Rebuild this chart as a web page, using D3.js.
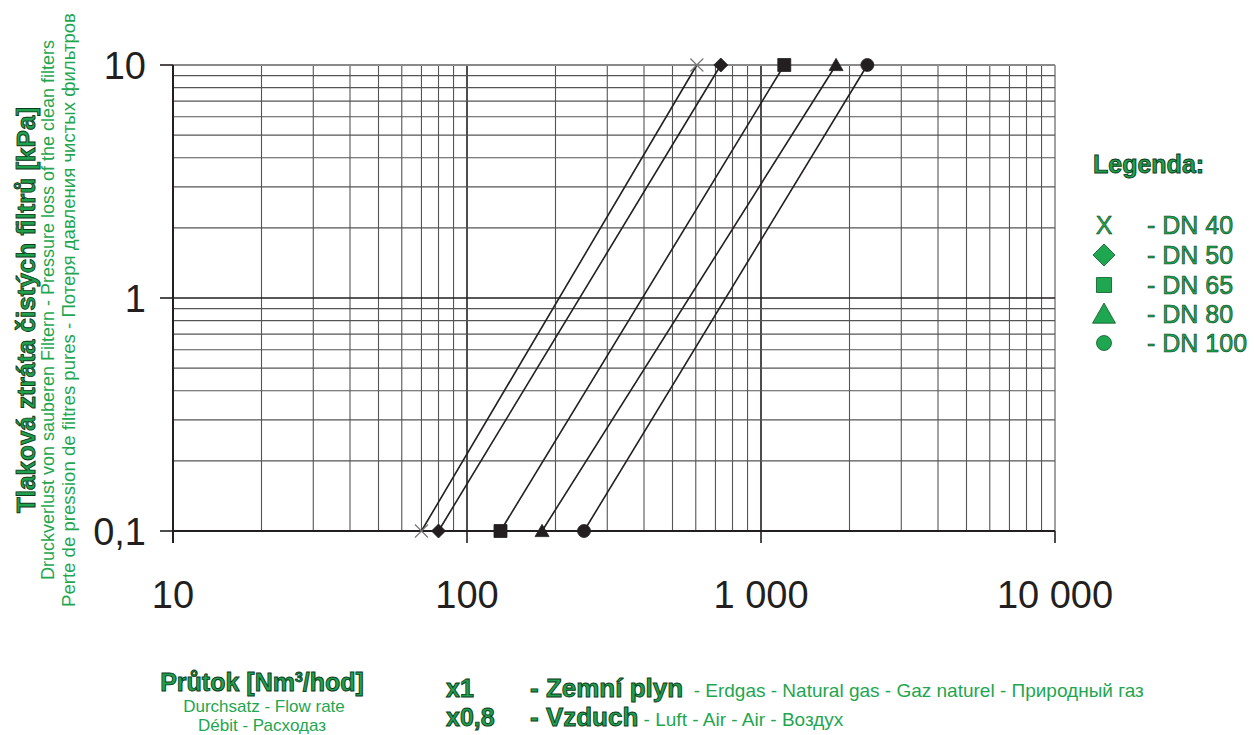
<!DOCTYPE html>
<html>
<head>
<meta charset="utf-8">
<script src="https://cdn.jsdelivr.net/npm/d3@7"></script>
<style>
  body { margin: 0; background: #fff; }
  svg { font-family: "Liberation Sans", Arial, sans-serif; }
  .bold { font-weight: bold; fill: #1fa04c; stroke: #0c3a1c; stroke-width: 0.9px; }
  .thin { fill: #1fa650; }
</style>
</head>
<body>
<div id="chart"></div>
<script>
// filter sizes and their flow at the two ends of the pressure range
const sizes = ['DN 40', 'DN 50', 'DN 65', 'DN 80', 'DN 100'];
const symbols = ['x', 'diamond', 'square', 'triangle', 'circle'];
const pressureLow = 0.1;
const pressureHigh = 10;
const flowLow = [70, 80, 130, 180, 250];
const flowHigh = [605, 730, 1200, 1800, 2300];

const xTickLabels = ['10', '100', '1 000', '10 000'];
const yTickLabels = ['0,1', '1', '10'];

const width = 1254;
const height = 735;

const svg = d3.select('#chart')
  .append('svg')
  .attr('width', width)
  .attr('height', height);

const x = d3.scaleLog().domain([10, 10000]).range([173, 1055]);
const y = d3.scaleLog().domain([0.1, 10]).range([531, 65]);

const isDecade = (v) => Math.abs(Math.log10(v) - Math.round(Math.log10(v))) < 1e-9;

// grid
const grid = svg.append('g');
grid.selectAll('.vx')
  .data(x.ticks())
  .enter()
  .append('line')
  .attr('x1', (d) => x(d)).attr('x2', (d) => x(d))
  .attr('y1', y(10)).attr('y2', y(0.1))
  .attr('stroke', (d) => (d === 10000 ? '#8a8a8a' : isDecade(d) ? '#231f20' : '#555'))
  .attr('stroke-width', (d) => (isDecade(d) ? 1.6 : 1.1));

grid.selectAll('.hy')
  .data(y.ticks())
  .enter()
  .append('line')
  .attr('x1', x(10)).attr('x2', x(10000))
  .attr('y1', (d) => y(d)).attr('y2', (d) => y(d))
  .attr('stroke', (d) => (d === 10 ? '#8a8a8a' : isDecade(d) ? '#231f20' : '#555'))
  .attr('stroke-width', (d) => (d === 10 ? 2 : isDecade(d) ? 1.6 : 1.1));

// axes lines
svg.append('line')
  .attr('x1', x(10)).attr('x2', x(10))
  .attr('y1', y(10)).attr('y2', y(0.1) + 12)
  .attr('stroke', '#231f20').attr('stroke-width', 2);
svg.append('line')
  .attr('x1', x(10)).attr('x2', x(10000))
  .attr('y1', y(0.1)).attr('y2', y(0.1))
  .attr('stroke', '#231f20').attr('stroke-width', 2);

const xDecades = [10, 100, 1000, 10000];
const yDecades = [0.1, 1, 10];

svg.selectAll('.xt')
  .data(xDecades)
  .enter()
  .append('line')
  .attr('x1', (d) => x(d)).attr('x2', (d) => x(d))
  .attr('y1', y(0.1)).attr('y2', y(0.1) + 12)
  .attr('stroke', '#231f20').attr('stroke-width', 1.6);

svg.selectAll('.yt')
  .data(yDecades)
  .enter()
  .append('line')
  .attr('x1', x(10) - 13).attr('x2', x(10))
  .attr('y1', (d) => y(d)).attr('y2', (d) => y(d))
  .attr('stroke', '#231f20').attr('stroke-width', 1.6);

// tick labels
svg.selectAll('.xl')
  .data(xDecades)
  .enter()
  .append('text')
  .attr('x', (d) => x(d))
  .attr('y', 608)
  .attr('text-anchor', 'middle')
  .style('font-size', '38px')
  .style('fill', '#231f20')
  .text((d, i) => xTickLabels[i]);

svg.selectAll('.yl')
  .data(yDecades)
  .enter()
  .append('text')
  .attr('x', 146)
  .attr('y', (d) => y(d) + 14)
  .attr('text-anchor', 'end')
  .style('font-size', '38px')
  .style('fill', '#231f20')
  .text((d, i) => yTickLabels[i]);

// series lines
const series = sizes.map((name, i) => ({
  name,
  symbol: symbols[i],
  points: [[flowLow[i], pressureLow], [flowHigh[i], pressureHigh]]
}));

const line = d3.line().x((d) => x(d[0])).y((d) => y(d[1]));

svg.selectAll('.series')
  .data(series)
  .enter()
  .append('path')
  .attr('d', (d) => line(d.points))
  .attr('fill', 'none')
  .attr('stroke', '#231f20')
  .attr('stroke-width', 1.6);

// markers, w = overall width of the shape
function drawMarker(g, type, w, fill, stroke) {
  const h = w / 2;
  if (type === 'x') {
    g.append('path')
      .attr('d', `M${-h},${-h}L${h},${h}M${-h},${h}L${h},${-h}`)
      .attr('stroke', stroke)
      .attr('stroke-width', 1.2)
      .attr('fill', 'none');
    return;
  }
  let d;
  if (type === 'diamond') d = `M0,${-h}L${h},0L0,${h}L${-h},0Z`;
  else if (type === 'square') d = `M${-h},${-h}H${h}V${h}H${-h}Z`;
  else if (type === 'triangle') d = `M0,${-h * 0.95}L${h},${h * 0.8}L${-h},${h * 0.8}Z`;
  else d = d3.arc()({ innerRadius: 0, outerRadius: h, startAngle: 0, endAngle: 2 * Math.PI });
  g.append('path')
    .attr('d', d)
    .attr('fill', fill)
    .attr('stroke', stroke)
    .attr('stroke-width', 0.8);
}

const plotSize = { x: 13, diamond: 14, square: 13, triangle: 14, circle: 13 };
series.forEach((s) => {
  s.points.forEach((p) => {
    const g = svg.append('g').attr('transform', `translate(${x(p[0])},${y(p[1])})`);
    drawMarker(g, s.symbol, plotSize[s.symbol], '#231f20', s.symbol === 'x' ? '#777' : '#231f20');
  });
});

// legend
svg.append('text')
  .attr('class', 'bold')
  .attr('x', 1093)
  .attr('y', 173)
  .style('font-size', '25px')
  .text('Legenda:');

const legendY = [225, 255, 285, 314, 343];
const legendSize = { diamond: 22, square: 15, triangle: 23, circle: 15 };
sizes.forEach((name, i) => {
  const g = svg.append('g').attr('transform', `translate(1104,${legendY[i]})`);
  if (symbols[i] === 'x') {
    g.append('text')
      .attr('class', 'thin')
      .attr('text-anchor', 'middle')
      .attr('y', 9)
      .style('font-size', '25px')
      .style('stroke', '#0c3a1c').style('stroke-width', '0.5px')
      .text('X');
  } else {
    drawMarker(g, symbols[i], legendSize[symbols[i]], '#1fa650', '#0c5a24');
  }
  svg.append('text')
    .attr('class', 'thin')
    .attr('x', 1147)
    .attr('y', legendY[i] + 9)
    .style('font-size', '25px')
    .style('stroke', '#0c3a1c').style('stroke-width', '0.6px')
    .text('- ' + name);
});

// y axis title
const yTitle = svg.append('g').attr('transform', 'translate(0,310) rotate(-90)');
yTitle.append('text')
  .attr('class', 'bold')
  .attr('x', 0).attr('y', 35)
  .attr('text-anchor', 'middle')
  .style('font-size', '26px')
  .text('Tlaková ztráta čistých filtrů [kPa]');
yTitle.append('text')
  .attr('class', 'thin')
  .attr('x', 0).attr('y', 54)
  .attr('text-anchor', 'middle')
  .style('font-size', '18px')
  .text('Druckverlust von sauberen Filtern - Pressure loss of the clean filters');
yTitle.append('text')
  .attr('class', 'thin')
  .attr('x', 0).attr('y', 75)
  .attr('text-anchor', 'middle')
  .style('font-size', '18.6px')
  .text('Perte de pression de filtres pures - Потеря давления чистых фильтров');

// x axis title
const xt = svg.append('text')
  .attr('class', 'bold')
  .attr('x', 262).attr('y', 691)
  .attr('text-anchor', 'middle')
  .style('font-size', '25px');
xt.append('tspan').text('Průtok [Nm');
xt.append('tspan').attr('dy', -9).style('font-size', '14px').text('3');
xt.append('tspan').attr('dy', 9).text('/hod]');

svg.append('text')
  .attr('class', 'thin')
  .attr('x', 264).attr('y', 712)
  .attr('text-anchor', 'middle')
  .style('font-size', '17px')
  .text('Durchsatz - Flow rate');
svg.append('text')
  .attr('class', 'thin')
  .attr('x', 262).attr('y', 731)
  .attr('text-anchor', 'middle')
  .style('font-size', '17px')
  .text('Débit - Расходаз');

// medium factors
const factors = ['x1', 'x0,8'];
const media = ['- Zemní plyn', '- Vzduch'];
const mediaNotes = ['  - Erdgas - Natural gas - Gaz naturel - Природный газ', ' - Luft - Air - Air - Воздух'];
const rowY = [697, 726];

factors.forEach((f, i) => {
  svg.append('text')
    .attr('class', 'bold')
    .attr('x', 446).attr('y', rowY[i])
    .style('font-size', '25px')
    .text(f);
  const t = svg.append('text')
    .attr('x', 530).attr('y', rowY[i])
    .attr('xml:space', 'preserve');
  t.append('tspan')
    .attr('class', 'bold')
    .style('font-size', '26px')
    .text(media[i]);
  t.append('tspan')
    .attr('class', 'thin')
    .style('font-size', '19px')
    .text(mediaNotes[i]);
});
</script>
</body>
</html>
